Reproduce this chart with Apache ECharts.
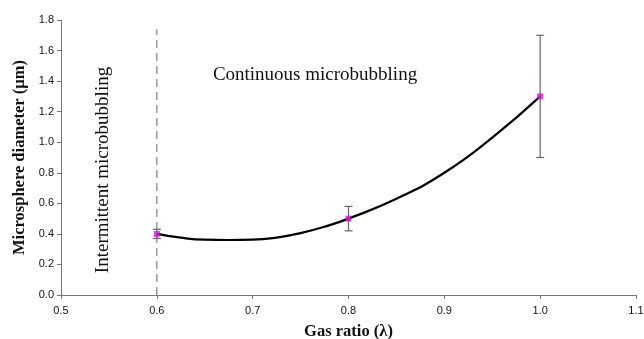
<!DOCTYPE html>
<html>
<head>
<meta charset="utf-8">
<script src="https://cdn.jsdelivr.net/npm/echarts@6/dist/echarts.min.js"></script>
<style>
  html, body { margin: 0; padding: 0; background: #fff; }
  #chart { width: 644px; height: 339px; }
</style>
</head>
<body>
<div id="chart"></div>
<script>
// measured points
const gasRatio = [0.6, 0.8, 1.0]
const diameter = [0.40, 0.50, 1.30]
const errLow = [0.37, 0.42, 0.90]
const errHigh = [0.43, 0.58, 1.70]

// trend line
const trendX = [0.6, 0.625, 0.65, 0.675, 0.7, 0.725, 0.75, 0.775, 0.8, 0.85, 0.9, 0.95, 1.0]
const trendY = [0.40, 0.375, 0.362, 0.36, 0.362, 0.376, 0.405, 0.447, 0.50, 0.63, 0.80, 1.03, 1.30]

const xTicks = [0.5, 0.6, 0.7, 0.8, 0.9, 1.0, 1.1]
const yTicks = [0.0, 0.2, 0.4, 0.6, 0.8, 1.0, 1.2, 1.4, 1.6, 1.8]

const serif = '"Liberation Serif", "DejaVu Serif", serif'
const sans = '"Liberation Sans", Arial, sans-serif'

const chart = echarts.init(document.getElementById('chart'))

chart.setOption({
    animation: false,
    grid: { left: 61, right: 8, top: 20, bottom: 44, outerBoundsMode: 'none' },
    xAxis: {
        type: 'value',
        min: xTicks[0],
        max: xTicks[xTicks.length - 1],
        interval: 0.1,
        name: 'Gas ratio (λ)',
        nameLocation: 'middle',
        nameGap: 28,
        nameTextStyle: { fontFamily: serif, fontWeight: 'bold', fontSize: 16.5, color: '#111' },
        axisLine: { lineStyle: { color: '#777', width: 1 } },
        axisTick: { length: 4, lineStyle: { color: '#777' } },
        axisLabel: { fontFamily: sans, fontSize: 11, color: '#111', margin: 10,
            formatter: v => v.toFixed(1) },
        splitLine: { show: false }
    },
    yAxis: {
        type: 'value',
        min: yTicks[0],
        max: yTicks[yTicks.length - 1],
        interval: 0.2,
        name: 'Microsphere diameter (µm)',
        nameLocation: 'middle',
        nameGap: 33,
        nameTextStyle: { fontFamily: serif, fontWeight: 'bold', fontSize: 16.5, color: '#111' },
        axisLine: { show: true, lineStyle: { color: '#777', width: 1 } },
        axisTick: { show: true, length: 4, lineStyle: { color: '#777' } },
        axisLabel: { fontFamily: sans, fontSize: 11, color: '#111', margin: 7,
            formatter: v => v.toFixed(1) },
        splitLine: { show: false }
    },
    series: [
        {
            name: 'boundary',
            type: 'line',
            data: [[0.6, 0], [0.6, 1.74]],
            symbol: 'none',
            lineStyle: { color: '#888', width: 1.3, type: [8, 5] },
            silent: true,
            z: 1
        },
        {
            name: 'trend',
            type: 'line',
            data: trendX.map((x, i) => [x, trendY[i]]),
            smooth: true,
            symbol: 'none',
            lineStyle: { color: '#000', width: 2.2 },
            z: 2
        },
        {
            name: 'error',
            type: 'custom',
            data: gasRatio.map((x, i) => [x, errLow[i], errHigh[i]]),
            renderItem: (params, api) => {
                const lo = api.coord([api.value(0), api.value(1)])
                const hi = api.coord([api.value(0), api.value(2)])
                const w = 4
                const style = { stroke: '#666', lineWidth: 1.2 }
                return {
                    type: 'group',
                    children: [
                        { type: 'line', shape: { x1: lo[0], y1: lo[1], x2: hi[0], y2: hi[1] }, style },
                        { type: 'line', shape: { x1: lo[0] - w, y1: lo[1], x2: lo[0] + w, y2: lo[1] }, style },
                        { type: 'line', shape: { x1: hi[0] - w, y1: hi[1], x2: hi[0] + w, y2: hi[1] }, style }
                    ]
                }
            },
            z: 3
        },
        {
            name: 'measured',
            type: 'scatter',
            data: gasRatio.map((x, i) => [x, diameter[i]]),
            symbol: 'rect',
            symbolSize: 6,
            itemStyle: { color: '#d11ad1' },
            z: 4
        }
    ],
    graphic: [
        {
            type: 'text',
            x: 315,
            y: 75,
            style: { text: 'Continuous microbubbling', font: '19px ' + serif, fill: '#111',
                align: 'center', verticalAlign: 'middle' }
        },
        {
            type: 'text',
            x: 103,
            y: 170,
            rotation: Math.PI / 2,
            style: { text: 'Intermittent microbubbling', font: '19px ' + serif, fill: '#111',
                align: 'center', verticalAlign: 'middle' }
        }
    ]
})
</script>
</body>
</html>
